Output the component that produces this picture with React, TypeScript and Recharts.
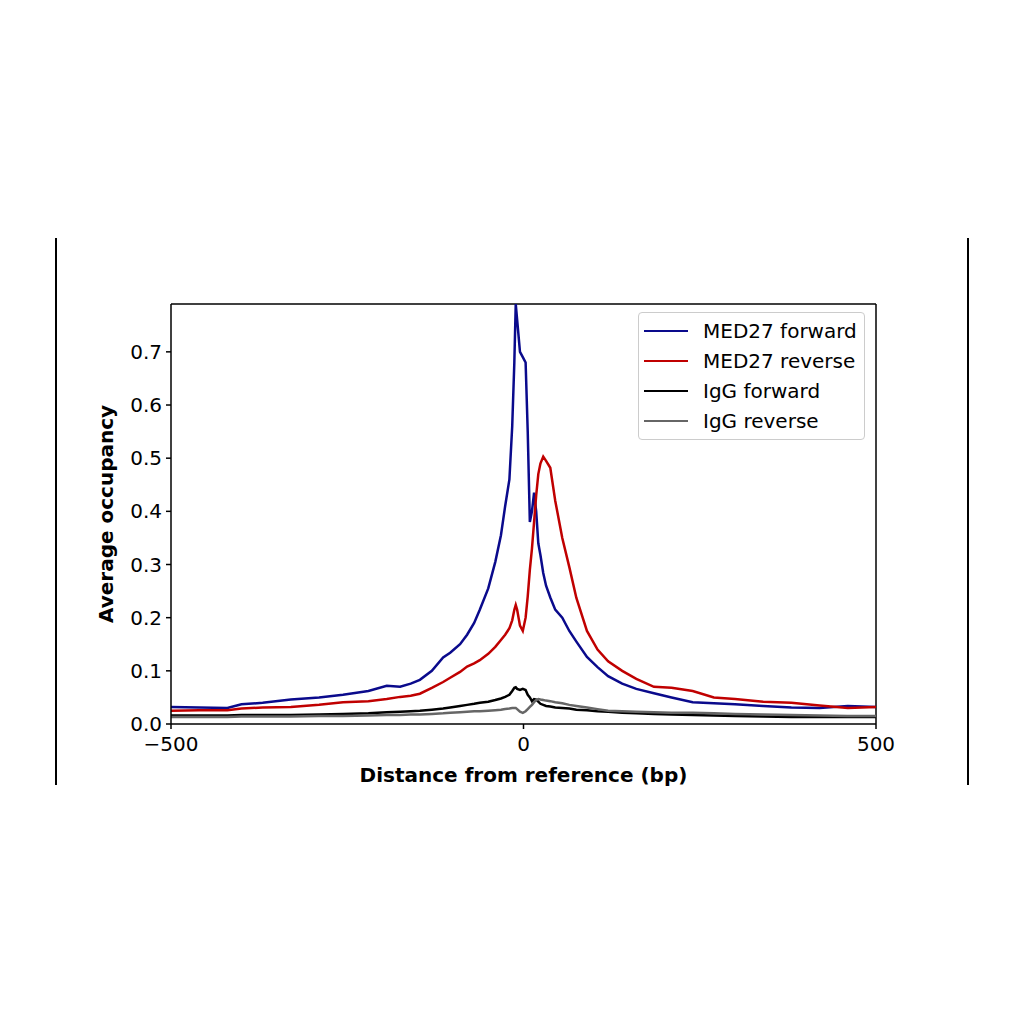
import React from "react";
import { Line, LineChart, ReferenceLine, XAxis, YAxis } from "recharts";

// distance from reference (bp)
const positions = [
  -500, -460, -420, -400, -370, -330, -290, -256, -220, -194, -175, -160, -147, -130, -114, -104,
  -90, -80, -70, -62, -50, -40, -32, -26, -20, -16, -13, -11, -9, -5, -1, 3, 6, 9, 12, 15, 18, 21,
  24, 28, 32, 38, 45, 55, 65, 75, 90, 105, 120, 140, 160, 185, 210, 240, 270, 300, 340, 380, 420,
  460, 500,
];

const med27Forward = [
  0.032, 0.031, 0.03, 0.037, 0.04, 0.046, 0.05, 0.055, 0.062, 0.072, 0.07, 0.076, 0.083, 0.1, 0.125,
  0.134, 0.15, 0.168, 0.19, 0.215, 0.255, 0.305, 0.355, 0.41, 0.46, 0.56, 0.68, 0.79, 0.76, 0.7,
  0.69, 0.68, 0.55, 0.38, 0.4, 0.435, 0.4, 0.34, 0.318, 0.284, 0.26, 0.238, 0.215, 0.2, 0.175, 0.155,
  0.126, 0.107, 0.09, 0.076, 0.066, 0.058, 0.05, 0.041, 0.039, 0.037, 0.034, 0.031, 0.03, 0.034,
  0.032,
];

const med27Reverse = [
  0.025, 0.026, 0.026, 0.029, 0.031, 0.032, 0.036, 0.041, 0.043, 0.047, 0.051, 0.053, 0.057, 0.068,
  0.079, 0.087, 0.098, 0.108, 0.114, 0.12, 0.132, 0.145, 0.158, 0.168, 0.18, 0.195, 0.215, 0.224,
  0.215, 0.185, 0.175, 0.2, 0.24, 0.29, 0.33, 0.38, 0.43, 0.47, 0.49, 0.503, 0.495, 0.482, 0.42,
  0.35, 0.295, 0.237, 0.175, 0.14, 0.118, 0.1, 0.085, 0.07, 0.068, 0.062, 0.05, 0.047, 0.042, 0.04,
  0.035, 0.03, 0.032,
];

const iggForward = [
  0.016, 0.016, 0.016, 0.017, 0.017, 0.017, 0.018, 0.019, 0.02, 0.022, 0.023, 0.024, 0.025, 0.027,
  0.029, 0.031, 0.034, 0.036, 0.038, 0.04, 0.042, 0.045, 0.048, 0.051, 0.055, 0.062, 0.068, 0.069,
  0.066, 0.064, 0.066, 0.064, 0.055, 0.05, 0.043, 0.047, 0.046, 0.042, 0.038, 0.036, 0.034, 0.033,
  0.031, 0.03, 0.029, 0.027, 0.026, 0.024, 0.023, 0.021, 0.02, 0.019, 0.018, 0.017, 0.016, 0.015,
  0.014, 0.013, 0.013, 0.013, 0.013,
];

const iggReverse = [
  0.013, 0.013, 0.013, 0.014, 0.014, 0.014, 0.015, 0.015, 0.016, 0.017, 0.017, 0.018, 0.018, 0.019,
  0.02, 0.021, 0.022, 0.023, 0.024, 0.024, 0.025, 0.026, 0.027, 0.028, 0.029, 0.03, 0.03, 0.03,
  0.028, 0.023, 0.021, 0.024, 0.028, 0.032, 0.036, 0.041, 0.045, 0.047, 0.046, 0.045, 0.044, 0.043,
  0.041, 0.039, 0.036, 0.034, 0.031, 0.028, 0.025, 0.024, 0.023, 0.022, 0.021, 0.021, 0.02, 0.019,
  0.018, 0.017, 0.016, 0.015, 0.015,
];

const xTicks = [-500, 0, 500];
const yTicks = [0, 0.1, 0.2, 0.3, 0.4, 0.5, 0.6, 0.7];

const series = [
  { key: "medF", name: "MED27 forward", color: "#0a0a8c" },
  { key: "medR", name: "MED27 reverse", color: "#c00000" },
  { key: "iggF", name: "IgG forward", color: "#000000" },
  { key: "iggR", name: "IgG reverse", color: "#666666" },
];

const data = positions.map((x, i) => ({
  x,
  medF: med27Forward[i],
  medR: med27Reverse[i],
  iggF: iggForward[i],
  iggR: iggReverse[i],
}));

const font = "'DejaVu Sans', sans-serif";
const tickStyle = { fill: "#000", fontSize: 20, fontFamily: font };
const labelStyle = { fontFamily: font, fontSize: 20, fontWeight: "bold", fill: "#000" };

export default function App() {
  return (
    <div style={{ position: "relative", width: 1008, height: 1000, background: "#fff" }}>
      <div style={{ position: "absolute", left: 47, top: 230, width: 2, height: 547, background: "#000" }} />
      <div style={{ position: "absolute", left: 959, top: 230, width: 2, height: 547, background: "#000" }} />
      <LineChart
        width={1000}
        height={1000}
        data={data}
        margin={{ top: 296, right: 132, bottom: 254, left: 103 }}
      >
        <XAxis
          dataKey="x"
          type="number"
          domain={[-500, 500]}
          ticks={xTicks}
          tickFormatter={(v: number) => (v < 0 ? `\u2212${Math.abs(v)}` : `${v}`)}
          tick={tickStyle}
          stroke="#000"
          strokeWidth={1.5}
          tickSize={5}
          tickMargin={8}
          height={30}
          label={{ value: "Distance from reference (bp)", position: "insideBottom", offset: -28, style: labelStyle }}
        />
        <YAxis
          type="number"
          domain={[0, 0.79]}
          allowDataOverflow
          ticks={yTicks}
          tickFormatter={(v: number) => v.toFixed(1)}
          tick={tickStyle}
          stroke="#000"
          strokeWidth={1.5}
          tickSize={5}
          tickMargin={4}
          width={60}
          label={{
            value: "Average occupancy",
            angle: -90,
            position: "insideLeft",
            offset: -5,
            style: { ...labelStyle, textAnchor: "middle" },
          }}
        />
        <ReferenceLine y={0.79} stroke="#000" strokeWidth={1.5} />
        <ReferenceLine x={500} stroke="#000" strokeWidth={1.5} />
        {series.map((s) => (
          <Line
            key={s.key}
            dataKey={s.key}
            name={s.name}
            stroke={s.color}
            strokeWidth={2.5}
            dot={false}
            isAnimationActive={false}
          />
        ))}
      </LineChart>
      <div
        style={{
          position: "absolute",
          left: 630,
          top: 304,
          width: 225,
          border: "1px solid #ccc",
          borderRadius: 4,
          background: "rgba(255,255,255,0.85)",
          padding: "3px 0",
          fontFamily: font,
          fontSize: 20,
          color: "#000",
        }}
      >
        {series.map((s) => (
          <div key={s.key} style={{ display: "flex", alignItems: "center", height: 30 }}>
            <span
              style={{
                display: "inline-block",
                width: 44,
                height: 0,
                borderTop: `2.5px solid ${s.color}`,
                marginLeft: 5,
                marginRight: 15,
              }}
            />
            {s.name}
          </div>
        ))}
      </div>
    </div>
  );
}
